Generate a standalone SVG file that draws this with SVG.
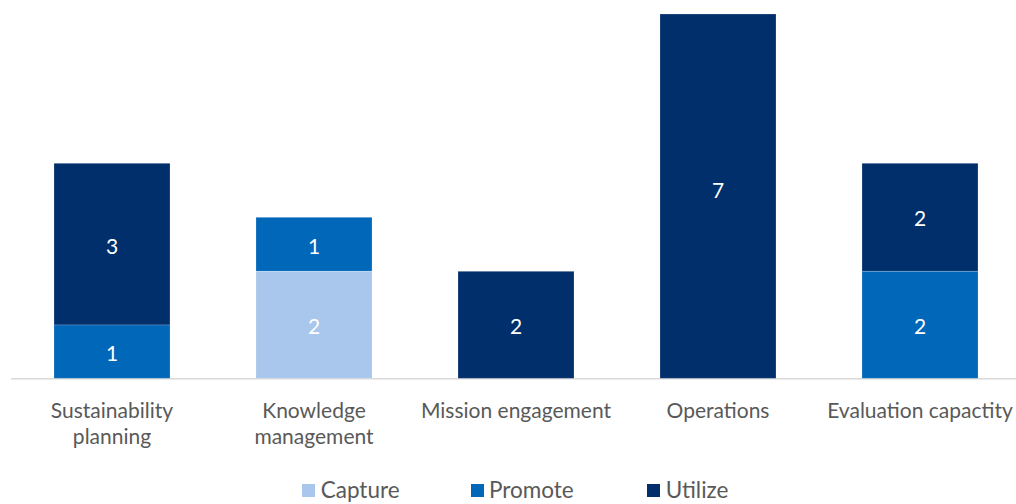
<svg xmlns="http://www.w3.org/2000/svg" width="1016" height="504" viewBox="0 0 1016 504">
<style>
.cap{fill:#A9C6EC}
.pro{fill:#0067B9}
.uti{fill:#002F6C}
.bar{stroke:#ffffff;stroke-opacity:0.25;stroke-width:0.8}
.val{font-family:Lato,"Liberation Sans",sans-serif;font-size:21px;fill:#ffffff;text-anchor:middle}
.cat{font-family:Lato,"Liberation Sans",sans-serif;font-size:21px;fill:#595959;text-anchor:middle}
.leg{font-family:Lato,"Liberation Sans",sans-serif;font-size:22.5px;fill:#595959}
</style>
<rect width="1016" height="504" fill="#ffffff"/>
<g id="axis">
<line x1="11" y1="378.8" x2="1016" y2="378.8" stroke="#d9d9d9" stroke-width="1.5"/>
</g>
<g id="sustainability">
<rect class="uti bar" x="54" y="163.3" width="116" height="161.7"/>
<rect class="pro bar" x="54" y="325" width="116" height="53.3"/>
<text class="val" x="112" y="254">3</text>
<text class="val" x="112" y="361">1</text>
<text class="cat" x="112" y="418">Sustainability</text>
<text class="cat" x="112" y="444">planning</text>
</g>
<g id="knowledge">
<rect class="pro bar" x="256" y="217.3" width="116" height="54"/>
<rect class="cap bar" x="256" y="271.3" width="116" height="107"/>
<text class="val" x="314" y="254">1</text>
<text class="val" x="314" y="334">2</text>
<text class="cat" x="314" y="418">Knowledge</text>
<text class="cat" x="314" y="444">management</text>
</g>
<g id="mission">
<rect class="uti bar" x="458" y="271.3" width="116" height="107"/>
<text class="val" x="516" y="334">2</text>
<text class="cat" x="516" y="418">Mission engagement</text>
</g>
<g id="operations">
<rect class="uti bar" x="660" y="14" width="116" height="364.3"/>
<text class="val" x="718" y="198">7</text>
<text class="cat" x="718" y="418">Operations</text>
</g>
<g id="evaluation">
<rect class="uti bar" x="862" y="163.3" width="116" height="108"/>
<rect class="pro bar" x="862" y="271.3" width="116" height="107"/>
<text class="val" x="920" y="226">2</text>
<text class="val" x="920" y="334">2</text>
<text class="cat" x="920" y="418">Evaluation capactity</text>
</g>
<g id="legend">
<rect class="cap" x="302" y="484" width="13" height="13"/>
<text class="leg" x="320.7" y="498">Capture</text>
<rect class="pro" x="471" y="484" width="13" height="13"/>
<text class="leg" x="489" y="498">Promote</text>
<rect class="uti" x="647" y="484" width="13" height="13"/>
<text class="leg" x="665.7" y="498">Utilize</text>
</g>
</svg>
